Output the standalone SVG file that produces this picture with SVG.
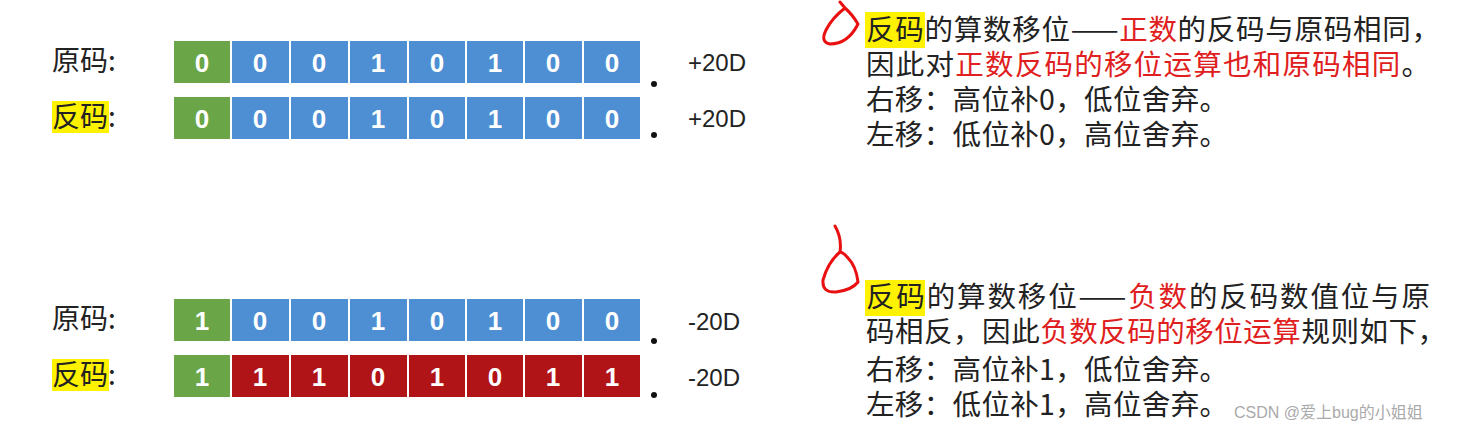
<svg xmlns="http://www.w3.org/2000/svg" width="1472" height="432" viewBox="0 0 1472 432">
<style>
.c{stroke:#fff;stroke-width:2}
.g{fill:#6aa547}.b{fill:#4e8fd4}.r{fill:#b01416}
.n{font-family:"Liberation Sans",Arial,sans-serif;font-weight:bold;font-size:26px;fill:#fff;text-anchor:middle}
.l{font-family:"Noto Sans CJK SC",sans-serif;font-size:28px;fill:#222}
.v{font-family:"Liberation Sans",Arial,sans-serif;font-size:24px;fill:#222}
.t{font-family:"Noto Sans CJK SC",sans-serif;font-size:28.5px;fill:#222}
.red{fill:#e02020}
.hl{fill:#fff200}
.mk{fill:none;stroke:#e81010;stroke-width:3;stroke-linecap:round;stroke-linejoin:round}
</style>
<rect width="1472" height="432" fill="#fff"/>
<g id="row1">
<text class="l" x="52" y="71">原码:</text>
<rect class="c g" x="173" y="40" width="58" height="44"/><rect class="c b" x="231" y="40" width="59" height="44"/><rect class="c b" x="290" y="40" width="59" height="44"/><rect class="c b" x="349" y="40" width="59" height="44"/><rect class="c b" x="408" y="40" width="58" height="44"/><rect class="c b" x="466" y="40" width="58" height="44"/><rect class="c b" x="524" y="40" width="59" height="44"/><rect class="c b" x="583" y="40" width="58" height="44"/>
<text class="n" y="72"><tspan x="202">0</tspan><tspan x="260">0</tspan><tspan x="319">0</tspan><tspan x="378">1</tspan><tspan x="437">0</tspan><tspan x="495">1</tspan><tspan x="553">0</tspan><tspan x="612">0</tspan></text>
<circle cx="654" cy="84" r="3" fill="#111"/>
<text class="v" x="688" y="71">+20D</text>
</g>
<g id="row2">
<rect class="hl" x="52" y="101" width="57" height="32"/>
<text class="l" x="52" y="127">反码:</text>
<rect class="c g" x="173" y="96" width="58" height="44"/><rect class="c b" x="231" y="96" width="59" height="44"/><rect class="c b" x="290" y="96" width="59" height="44"/><rect class="c b" x="349" y="96" width="59" height="44"/><rect class="c b" x="408" y="96" width="58" height="44"/><rect class="c b" x="466" y="96" width="58" height="44"/><rect class="c b" x="524" y="96" width="59" height="44"/><rect class="c b" x="583" y="96" width="58" height="44"/>
<text class="n" y="128"><tspan x="202">0</tspan><tspan x="260">0</tspan><tspan x="319">0</tspan><tspan x="378">1</tspan><tspan x="437">0</tspan><tspan x="495">1</tspan><tspan x="553">0</tspan><tspan x="612">0</tspan></text>
<circle cx="654" cy="135" r="3" fill="#111"/>
<text class="v" x="688" y="127">+20D</text>
</g>
<g id="row3">
<text class="l" x="52" y="329">原码:</text>
<rect class="c g" x="173" y="298" width="58" height="44"/><rect class="c b" x="231" y="298" width="59" height="44"/><rect class="c b" x="290" y="298" width="59" height="44"/><rect class="c b" x="349" y="298" width="59" height="44"/><rect class="c b" x="408" y="298" width="58" height="44"/><rect class="c b" x="466" y="298" width="58" height="44"/><rect class="c b" x="524" y="298" width="59" height="44"/><rect class="c b" x="583" y="298" width="58" height="44"/>
<text class="n" y="330"><tspan x="202">1</tspan><tspan x="260">0</tspan><tspan x="319">0</tspan><tspan x="378">1</tspan><tspan x="437">0</tspan><tspan x="495">1</tspan><tspan x="553">0</tspan><tspan x="612">0</tspan></text>
<circle cx="654" cy="341" r="3" fill="#111"/>
<text class="v" x="688" y="330">-20D</text>
</g>
<g id="row4">
<rect class="hl" x="52" y="359" width="57" height="32"/>
<text class="l" x="52" y="385">反码:</text>
<rect class="c g" x="173" y="354" width="58" height="44"/><rect class="c r" x="231" y="354" width="59" height="44"/><rect class="c r" x="290" y="354" width="59" height="44"/><rect class="c r" x="349" y="354" width="59" height="44"/><rect class="c r" x="408" y="354" width="58" height="44"/><rect class="c r" x="466" y="354" width="58" height="44"/><rect class="c r" x="524" y="354" width="59" height="44"/><rect class="c r" x="583" y="354" width="58" height="44"/>
<text class="n" y="386"><tspan x="202">1</tspan><tspan x="260">1</tspan><tspan x="319">1</tspan><tspan x="378">0</tspan><tspan x="437">1</tspan><tspan x="495">0</tspan><tspan x="553">1</tspan><tspan x="612">1</tspan></text>
<circle cx="654" cy="395" r="3" fill="#111"/>
<text class="v" x="688" y="386">-20D</text>
</g>
<g id="text1">
<rect class="hl" x="865" y="12" width="60" height="36"/>
<text class="t" x="866" y="40" textLength="574">反码的算数移位——<tspan class="red">正数</tspan>的反码与原码相同，</text>
<text class="t" x="866" y="75" textLength="564">因此对<tspan class="red">正数反码的移位运算也和原码相同</tspan>。</text>
<text class="t" x="866" y="110" textLength="362">右移：高位补0，低位舍弃。</text>
<text class="t" x="866" y="145" textLength="362">左移：低位补0，高位舍弃。</text>
</g>
<g id="text2">
<rect class="hl" x="865" y="280" width="60" height="36"/>
<text class="t" x="866" y="307" textLength="564">反码的算数移位——<tspan class="red">负数</tspan>的反码数值位与原</text>
<text class="t" x="866" y="342" textLength="580">码相反，因此<tspan class="red">负数反码的移位运算</tspan>规则如下，</text>
<text class="t" x="866" y="380" textLength="362">右移：高位补1，低位舍弃。</text>
<text class="t" x="866" y="415" textLength="362">左移：低位补1，高位舍弃。</text>
<text x="1234" y="418" font-family="Liberation Sans,Arial,'Noto Sans CJK SC',sans-serif" font-size="16" fill="#aaa">CSDN @爱上bug的小姐姐</text>
</g>
<g id="marks">
<path class="mk" d="M840 2 L845 8 Q832 18 826 30 Q820 42 830 44 Q848 44 858 24 Q852 14 845 8"/>
<path class="mk" d="M835 226 Q842 238 840 252 Q828 262 823 280 Q822 293 836 292 Q852 290 858 282 Q856 266 848 258 Q843 252 840 252"/>
</g>
</svg>
